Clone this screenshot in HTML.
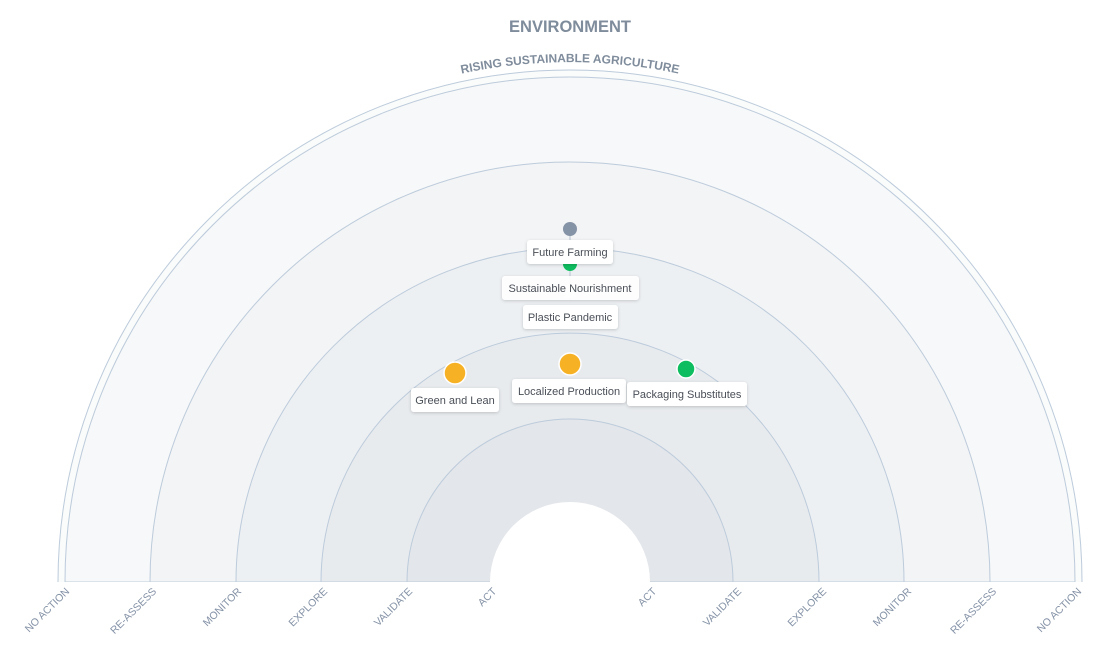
<!DOCTYPE html>
<html><head><meta charset="utf-8"><style>
html,body{margin:0;padding:0;background:#fff;}
svg{display:block;font-family:"Liberation Sans",sans-serif;}
</style></head><body>
<svg width="1102" height="647" viewBox="0 0 1102 647">
<defs>
<path id="arc" d="M 50 582 A 520 520 0 0 1 1090 582" fill="none"/>
<filter id="sh" x="-20%" y="-40%" width="140%" height="180%"><feDropShadow dx="0" dy="1" stdDeviation="1.5" flood-color="#000" flood-opacity="0.18"/></filter>
</defs>
<text x="570" y="32" text-anchor="middle" font-size="16.5" font-weight="bold" fill="#7f8c9c">ENVIRONMENT</text>
<text font-size="12" font-weight="bold" fill="#7f8c9c"><textPath href="#arc" startOffset="50%" text-anchor="middle">RISING SUSTAINABLE AGRICULTURE</textPath></text>
<path d="M58 582 A512 512 0 0 1 1082 582" fill="#fafbfb" stroke="#bccbdb" stroke-width="1"/>
<path d="M65 582 A505 505 0 0 1 1075 582 Z" fill="#f7f8f9" stroke="#bccbdb" stroke-width="1"/>
<path d="M150 582 A420 420 0 0 1 990 582 Z" fill="#f3f4f6" stroke="#bccbdb" stroke-width="1"/>
<path d="M236 582 A334 334 0 0 1 904 582 Z" fill="#edf0f3" stroke="#bccbdb" stroke-width="1"/>
<path d="M321 582 A249 249 0 0 1 819 582 Z" fill="#e8ebee" stroke="#bccbdb" stroke-width="1"/>
<path d="M407 582 A163 163 0 0 1 733 582 Z" fill="#e3e6ea" stroke="#bccbdb" stroke-width="1"/>
<path d="M490 582 A80 80 0 0 1 650 582 Z" fill="#fff"/>
<rect x="0" y="582" width="1102" height="65" fill="#fff"/>
<g font-size="10.5" fill="#8492a6" text-anchor="end">
<text transform="translate(70,592) rotate(-45)">NO ACTION</text>
<text transform="translate(157,592) rotate(-45)">RE-ASSESS</text>
<text transform="translate(242,592) rotate(-45)">MONITOR</text>
<text transform="translate(328,592) rotate(-45)">EXPLORE</text>
<text transform="translate(413,592) rotate(-45)">VALIDATE</text>
<text transform="translate(497,592) rotate(-45)">ACT</text>
<text transform="translate(657,592) rotate(-45)">ACT</text>
<text transform="translate(742,592) rotate(-45)">VALIDATE</text>
<text transform="translate(827,592) rotate(-45)">EXPLORE</text>
<text transform="translate(912,592) rotate(-45)">MONITOR</text>
<text transform="translate(997,592) rotate(-45)">RE-ASSESS</text>
<text transform="translate(1082,592) rotate(-45)">NO ACTION</text>
</g>
<line x1="570" y1="229" x2="570" y2="300" stroke="#c9d2dc" stroke-width="1.5"/>
<circle cx="570" cy="229" r="7" fill="#8593a6"/>
<circle cx="570" cy="264" r="7" fill="#0ebd5f"/>
<circle cx="570" cy="291" r="7" fill="#e4f6ec"/>
<circle cx="455" cy="373" r="11" fill="#f7b125" stroke="#fff" stroke-width="1.5"/>
<circle cx="570" cy="364" r="11" fill="#f7b125" stroke="#fff" stroke-width="1.5"/>
<circle cx="686" cy="369" r="9" fill="#0ebd5f" stroke="#fff" stroke-width="1.5"/>
<g font-size="11" fill="#4a4f57" text-anchor="middle">
<rect x="527" y="240" width="86" height="24" rx="3" fill="#fff" filter="url(#sh)"/>
<text x="570" y="256">Future Farming</text>
<rect x="502" y="276" width="137" height="24" rx="3" fill="#fff" filter="url(#sh)" fill-opacity="0.95"/>
<text x="570" y="292">Sustainable Nourishment</text>
<rect x="523" y="305" width="95" height="24" rx="3" fill="#fff" filter="url(#sh)"/>
<text x="570" y="321">Plastic Pandemic</text>
<rect x="411" y="388" width="88" height="24" rx="3" fill="#fff" filter="url(#sh)"/>
<text x="455" y="404">Green and Lean</text>
<rect x="512" y="379" width="114" height="24" rx="3" fill="#fff" filter="url(#sh)"/>
<text x="569" y="395">Localized Production</text>
<rect x="627" y="382" width="120" height="24" rx="3" fill="#fff" filter="url(#sh)"/>
<text x="687" y="398">Packaging Substitutes</text>
</g>
</svg>
</body></html>
